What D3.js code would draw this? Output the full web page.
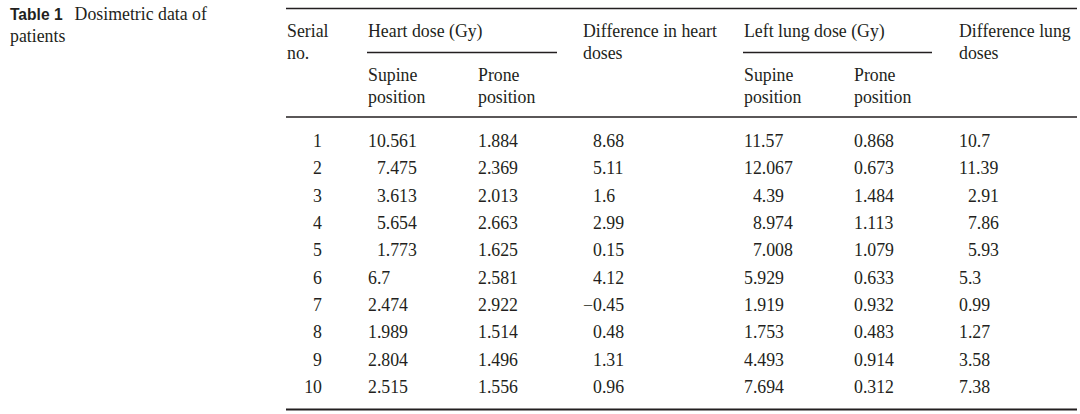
<!DOCTYPE html>
<html><head><meta charset="utf-8">
<script src="https://cdn.jsdelivr.net/npm/d3@7"></script>
<style>html,body{margin:0;padding:0;background:#fff;}</style>
</head><body>
<script>
const serialNo   = [1,2,3,4,5,6,7,8,9,10];
const heartSupine = [10.561,7.475,3.613,5.654,1.773,6.7,2.474,1.989,2.804,2.515];
const heartProne  = [1.884,2.369,2.013,2.663,1.625,2.581,2.922,1.514,1.496,1.556];
const heartDiff   = [8.68,5.11,1.6,2.99,0.15,4.12,-0.45,0.48,1.31,0.96];
const lungSupine  = [11.57,12.067,4.39,8.974,7.008,5.929,1.919,1.753,4.493,7.694];
const lungProne   = [0.868,0.673,1.484,1.113,1.079,0.633,0.932,0.483,0.914,0.312];
const lungDiff    = [10.7,11.39,2.91,7.86,5.93,5.3,0.99,1.27,3.58,7.38];

const titleBold = "Table 1";
const titleText = ["Dosimetric data of", "patients"];
const colKeys = ["serial","hs","hp","hd","ls","lp","ld"];
const colData = [serialNo, heartSupine, heartProne, heartDiff, lungSupine, lungProne, lungDiff];
const headerSingle = [
  {key:"serial", lines:["Serial","no."]},
  {key:"hd", lines:["Difference in heart","doses"]},
  {key:"ld", lines:["Difference lung","doses"]}
];
const groups = [
  {label:"Heart dose (Gy)", from:"hs", to:"hp"},
  {label:"Left lung dose (Gy)", from:"ls", to:"lp"}
];
const subHeaders = [
  {key:"hs", lines:["Supine","position"]},
  {key:"hp", lines:["Prone","position"]},
  {key:"ls", lines:["Supine","position"]},
  {key:"lp", lines:["Prone","position"]}
];

const W = 1080, H = 414;
const ink = "#231f20";
const serif = "'Liberation Serif','Times New Roman',serif";
const fs = 17.8;

const svg = d3.select("body").append("svg").attr("width", W).attr("height", H);

// title
const t = svg.append("text").attr("x", 10).attr("y", 20).attr("fill", ink);
t.append("tspan").attr("font-family","'Liberation Sans',Arial,sans-serif").attr("font-weight","bold").attr("font-size",15.6).text(titleBold);
t.append("tspan").attr("dx", 12).attr("font-family", serif).attr("font-size", fs).text(titleText[0]);
svg.append("text").attr("x",10).attr("y",42).attr("fill",ink).attr("font-family",serif).attr("font-size",fs).text(titleText[1]);

// scales
const x = d3.scaleOrdinal().domain(colKeys).range([287, 368, 478, 583, 744, 854, 959]);
const dataShift = {hd: 10};
const y = d3.scalePoint().domain(serialNo).range([147, 393]);
const tableLeft = 286, tableRight = 1077;

// rules
const rule = (y0, x0, x1, w) => svg.append("line").attr("x1",x0).attr("x2",x1).attr("y1",y0).attr("y2",y0).attr("stroke",ink).attr("stroke-width",w);
rule(8.5, tableLeft, tableRight, 1.3);
rule(117, tableLeft, tableRight, 1.3);
rule(409.5, tableLeft, tableRight, 1.8);

const txt = (xx, yy, s) => svg.append("text").attr("x",xx).attr("y",yy).attr("fill",ink).attr("font-family",serif).attr("font-size",fs).text(s);

headerSingle.forEach(h => h.lines.forEach((l,i) => txt(x(h.key), 37 + i*22, l)));
groups.forEach(g => {
  txt(x(g.from), 37, g.label);
  const x1 = x(g.to) + (g.from === "hs" ? 79 : 78);
  rule(52.5, x(g.from) - 1, x1, 1.3);
});
subHeaders.forEach(h => h.lines.forEach((l,i) => txt(x(h.key), 81 + i*22, l)));

// digit / minus widths
const probe = txt(0,-50,"0"); const digitW = probe.node().getComputedTextLength(); probe.remove();
const probe2 = txt(0,-50,"\u2212"); const minusW = probe2.node().getComputedTextLength(); probe2.remove();

const fmt = v => (v < 0 ? "\u2212" : "") + String(Math.abs(v));

colKeys.forEach((k, ci) => {
  const vals = colData[ci];
  if (k === "serial") {
    vals.forEach(v => svg.append("text").attr("x", 322).attr("y", y(v)).attr("text-anchor","end")
      .attr("fill",ink).attr("font-family",serif).attr("font-size",fs).text(v));
    return;
  }
  const firstMax = d3.max(vals.slice(0,5), v => Math.abs(v));
  vals.forEach((v, i) => {
    let xx = x(k) + (dataShift[k] || 0);
    if (i < 5 && firstMax >= 10 && Math.abs(v) < 10) xx += digitW;
    if (v < 0) xx -= minusW;
    txt(xx, y(serialNo[i]), fmt(v));
  });
});
</script>
</body></html>
